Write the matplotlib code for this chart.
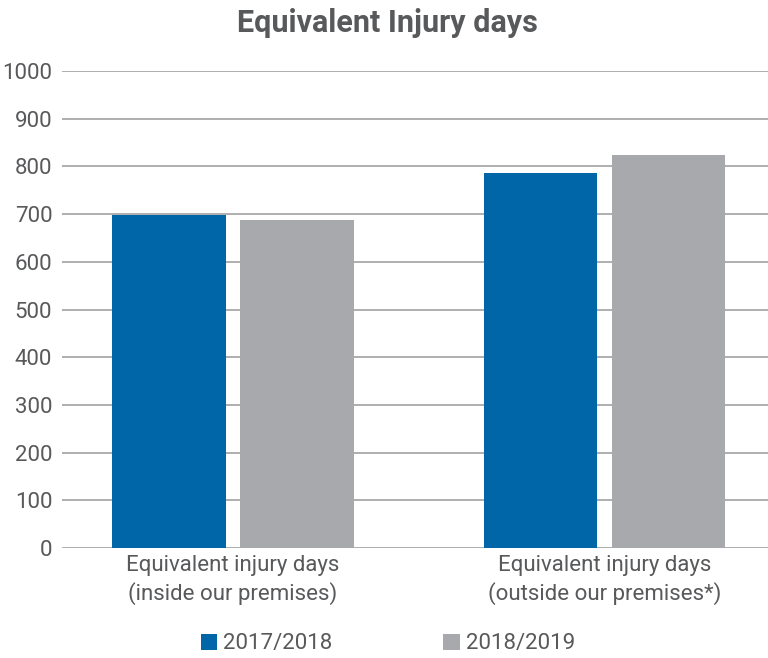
import matplotlib.pyplot as plt
import numpy as np

categories = ["Equivalent injury days\n(inside our premises)",
              "Equivalent injury days\n(outside our premises*)"]
series_names = ["2017/2018", "2018/2019"]
values_1718 = [698, 786]
values_1819 = [688, 824]

plt.rcParams['font.family'] = ['Roboto', 'DejaVu Sans']
text_color = "#58595b"

fig = plt.figure(figsize=(7.68, 6.58), dpi=100)
ax = fig.add_axes([62 / 768, 110 / 658, 706 / 768, 477 / 658])

x = np.arange(len(categories))
width = 0.306
offset = 0.172
ax.bar(x - offset, values_1718, width, color="#0066a8", label=series_names[0], zorder=3)
ax.bar(x + offset, values_1819, width, color="#a8a9ad", label=series_names[1], zorder=3)

ax.set_ylim(0, 1000)
ax.set_xlim(-0.46, 1.44)
ax.set_yticks(range(0, 1001, 100))
ax.yaxis.grid(True, color="#a8a8a8", linewidth=1.3, zorder=0)
ax.set_xticks(x)
ax.set_xticklabels(categories, linespacing=1.35)
for s in ax.spines.values():
    s.set_visible(False)
ax.tick_params(axis="both", length=0, labelsize=16, colors=text_color, pad=5)
ax.tick_params(axis="y", pad=7)

fig.suptitle("Equivalent Injury days", x=0.505, y=0.988, fontsize=22,
             fontweight="bold", color=text_color)

leg = fig.legend(loc="lower center", bbox_to_anchor=(0.505, -0.025), ncol=2, frameon=False,
                 handlelength=0.75, handleheight=0.75, handletextpad=0.25, columnspacing=5.0,
                 prop={"size": 16})
for t in leg.get_texts():
    t.set_color(text_color)

fig.savefig("out.png", dpi=100)
